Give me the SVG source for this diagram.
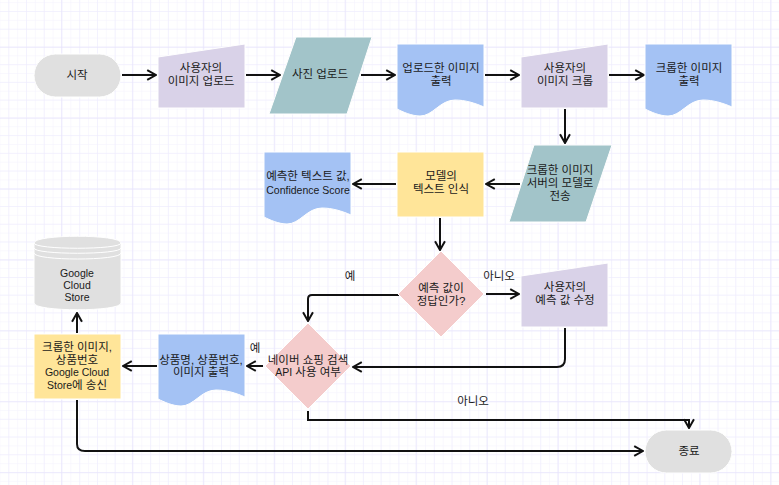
<svg xmlns="http://www.w3.org/2000/svg" width="779" height="485" viewBox="0 0 779 485">
<style>
text{font-family:"Liberation Sans","Noto Sans CJK KR",sans-serif;font-size:11.5px;fill:#1a1a1a;text-anchor:middle}
.l{font-size:10.5px}
.s{stroke:#fff;stroke-width:1}
.t{fill:#e0e0e0}.p{fill:#d9d2e8}.g{fill:#a2c4c9}.b{fill:#a4c2f4}.y{fill:#ffe599}.r{fill:#f4cccc}
.c{fill:none;stroke:#111;stroke-width:2}
</style>
<defs>
<pattern id="gm" width="8.866" height="8.866" patternUnits="userSpaceOnUse" patternTransform="translate(-0.6 2.1)"><path d="M8.866 0H0V8.866" fill="none" stroke="#f4f2fe" stroke-width="1"/></pattern>
<pattern id="gn" width="17.73" height="17.73" patternUnits="userSpaceOnUse" patternTransform="translate(8.3 11)"><path d="M17.73 0H0V17.73" fill="none" stroke="#eeebfd" stroke-width="1"/></pattern>
<pattern id="gM" width="70.9" height="70.9" patternUnits="userSpaceOnUse" patternTransform="translate(61 46.9)"><path d="M70.9 0H0V70.9" fill="none" stroke="#e6e2fc" stroke-width="1"/></pattern>
<marker id="a" viewBox="0 0 10 10" refX="9" refY="5" markerWidth="5.5" markerHeight="6" orient="auto" markerUnits="strokeWidth"><path d="M1 0.5L9 5L1 9.5" fill="none" stroke="#111" stroke-width="1.8"/></marker>
</defs>
<rect width="779" height="485" fill="#fff"/>
<rect width="779" height="485" fill="url(#gm)"/>
<rect width="779" height="485" fill="url(#gn)"/>
<rect width="779" height="485" fill="url(#gM)"/>
<g id="connectors">
<path class="c" marker-end="url(#a)" d="M122 75H156"/>
<path class="c" marker-end="url(#a)" d="M246 75H280"/>
<path class="c" marker-end="url(#a)" d="M361 75H395"/>
<path class="c" marker-end="url(#a)" d="M485 75H519"/>
<path class="c" marker-end="url(#a)" d="M609 75H644"/>
<path class="c" marker-end="url(#a)" d="M565 109V143"/>
<path class="c" marker-end="url(#a)" d="M520 184H486"/>
<path class="c" marker-end="url(#a)" d="M396 184H353"/>
<path class="c" marker-end="url(#a)" d="M440 218V250"/>
<path class="c" marker-end="url(#a)" d="M400 295H312Q308 295 308 299V321"/>
<path class="c" marker-end="url(#a)" d="M486 294H519"/>
<path class="c" marker-end="url(#a)" d="M565 328V359Q565 367 557 367H353"/>
<path class="c" marker-end="url(#a)" d="M263 366H247"/>
<path class="c" marker-end="url(#a)" d="M157 366H123"/>
<path class="c" marker-end="url(#a)" d="M77 333V313"/>
<path class="c" marker-end="url(#a)" d="M308 411V420H689V428"/>
<path class="c" marker-end="url(#a)" d="M77 400V444Q77 451 85 451H643"/>
</g>
<g id="start"><rect class="t s" x="34" y="54" width="87" height="43" rx="21.5"/><text x="77" y="79">시작</text></g>
<g id="upload-user"><path class="p s" d="M158 57L245 44V108H158Z"/><text x="201" y="72">사용자의</text><text x="201" y="85">이미지 업로드</text></g>
<g id="upload-photo"><path class="g s" d="M296 37H372L347 114H269Z"/><text x="320" y="78">사진 업로드</text></g>
<g id="uploaded-out"><path class="b s" d="M397 44H484V107C475 103 465 100 455 100C440 100 433 116 420 116C412 116 403 112 397 109Z"/><text x="441" y="72">업로드한 이미지</text><text x="441" y="85">출력</text></g>
<g id="crop-user"><path class="p s" d="M521 57L608 44V108H521Z"/><text x="565" y="72">사용자의</text><text x="565" y="85">이미지 크롭</text></g>
<g id="crop-out"><path class="b s" d="M645 44H732V107C723 103 713 100 703 100C688 100 681 116 668 116C660 116 651 112 645 109Z"/><text x="689" y="72">크롭한 이미지</text><text x="689" y="85">출력</text></g>
<g id="send-model"><path class="g s" d="M534 145H612L586 222H509Z"/><text x="560" y="174">크롭한 이미지</text><text x="560" y="187">서버의 모델로</text><text x="560" y="200">전송</text></g>
<g id="model-ocr"><rect class="y s" x="397" y="152" width="87" height="65"/><text x="441" y="180">모델의</text><text x="441" y="193">텍스트 인식</text></g>
<g id="pred-out"><path class="b s" d="M264 152H351V215C342 211 332 208 322 208C307 208 300 224 287 224C279 224 270 220 264 217Z"/><text x="308" y="180">예측한 텍스트 값,</text><text class="l" x="308" y="194">Confidence Score</text></g>
<g id="decision-correct"><path class="r s" d="M441 251L484 294L441 337L398 294Z"/><text x="441" y="291.500">예측 값이</text><text x="441" y="304.500">정답인가?</text></g>
<g id="user-fix"><path class="p s" d="M521 276L608 263V327H521Z"/><text x="565" y="291">사용자의</text><text x="565" y="304">예측 값 수정</text></g>
<g id="decision-api"><path class="r s" d="M308 323L351 366L308 409L265 366Z"/><text x="308" y="363.500">네이버 쇼핑 검색</text><text x="308" y="376"><tspan class="l">API</tspan> 사용 여부</text></g>
<g id="product-out"><path class="b s" d="M158 334H245V397C236 393 226 390 216 390C201 390 194 406 181 406C173 406 164 402 158 399Z"/><text x="201" y="364">상품명, 상품번호,</text><text x="201" y="376">이미지 출력</text></g>
<g id="send-gcs"><rect class="y s" x="34" y="334" width="87" height="65"/><text x="77" y="351">크롭한 이미지,</text><text x="77" y="364">상품번호</text><text class="l" x="77" y="376">Google Cloud</text><text x="77" y="389"><tspan class="l">Store</tspan>에 송신</text></g>
<g id="gcs"><path class="t s" d="M34 243C34 234 121 234 121 243V303C121 312 34 312 34 303Z"/><path d="M34 243C34 250 121 250 121 243M34 248C34 255 121 255 121 248M34 253C34 261 121 261 121 253" fill="none" stroke="#fff"/><text class="l" x="77" y="277">Google</text><text class="l" x="77" y="289">Cloud</text><text class="l" x="77" y="301">Store</text></g>
<g id="end"><rect class="t s" x="645" y="430" width="87" height="43" rx="21.5"/><text x="689" y="455">종료</text></g>
<g id="labels"><text x="350" y="280">예</text><text x="499" y="280">아니오</text><text x="255" y="352">예</text><text x="473" y="405">아니오</text></g>
</svg>
